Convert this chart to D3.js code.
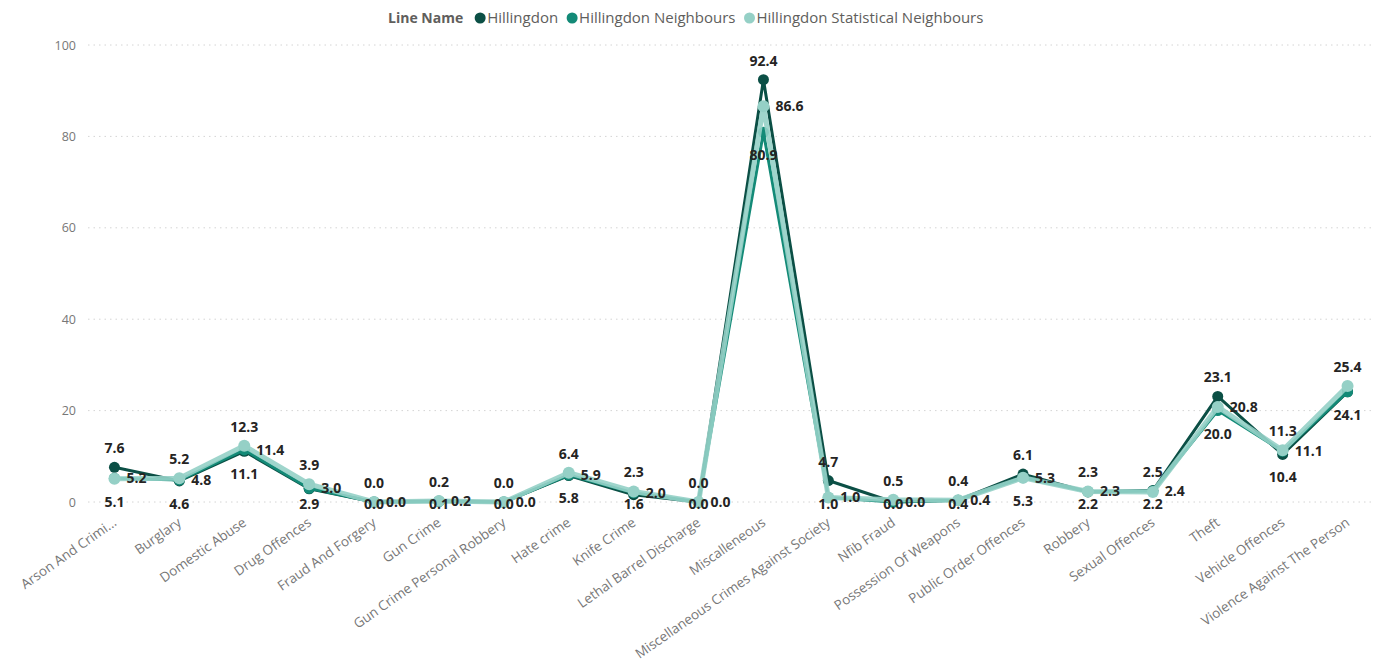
<!DOCTYPE html>
<html>
<head>
<meta charset="utf-8">
<script src="https://cdn.jsdelivr.net/npm/d3@7"></script>
<style>
  body { margin: 0; background: #fff; }
  svg { font-family: "Segoe UI", "Open Sans", sans-serif; }
</style>
</head>
<body>
<div id="the_chart"></div>
<script>
var categories = ["Arson And Crimi...", "Burglary", "Domestic Abuse", "Drug Offences", "Fraud And Forgery",
    "Gun Crime", "Gun Crime Personal Robbery", "Hate crime", "Knife Crime", "Lethal Barrel Discharge",
    "Miscalleneous", "Miscellaneous Crimes Against Society", "Nfib Fraud", "Possession Of Weapons",
    "Public Order Offences", "Robbery", "Sexual Offences", "Theft", "Vehicle Offences", "Violence Against The Person"];

var hillingdon = [7.6, 4.6, 11.1, 2.9, 0.0, 0.2, 0.0, 5.8, 1.6, 0.0, 92.4, 4.7, 0.0, 0.4, 6.1, 2.2, 2.5, 23.1, 10.4, 24.1];
var neighbours = [5.2, 4.8, 11.4, 3.0, 0.0, 0.1, 0.0, 5.9, 2.0, 0.0, 80.9, 1.0, 0.0, 0.4, 5.3, 2.3, 2.4, 20.0, 11.1, 24.1];
var statNeighbours = [5.1, 5.2, 12.3, 3.9, 0.0, 0.2, 0.0, 6.4, 2.3, 0.0, 86.6, 1.0, 0.5, 0.4, 5.3, 2.3, 2.2, 20.8, 11.3, 25.4];

var seriesNames = ["Hillingdon", "Hillingdon Neighbours", "Hillingdon Statistical Neighbours"];
var yTicks = [0, 20, 40, 60, 80, 100];

var colors = ["#0b4f45", "#138a77", "#95d0c6"];

var w = 1375;
var h = 663;

var svg = d3.select("#the_chart")
    .append("svg")
    .attr("width", w)
    .attr("height", h);

var yscale = d3.scaleLinear()
    .domain([0, 100])
    .range([502, 45]);

var xscale = d3.scalePoint()
    .domain(categories)
    .range([82, 1380])
    .padding(0.5);

// gridlines
svg.append("g")
    .selectAll("line")
    .data(yTicks)
    .enter().append("line")
    .attr("x1", 88)
    .attr("x2", 1375)
    .attr("y1", function (d) { return yscale(d); })
    .attr("y2", function (d) { return yscale(d); })
    .attr("stroke", "#d4d4d4")
    .attr("stroke-width", 1)
    .attr("stroke-dasharray", "1.5,4");

// y axis labels
var yaxis = d3.axisLeft(yscale).tickValues(yTicks).tickSize(0).tickPadding(0);
var yg = svg.append("g")
    .attr("transform", "translate(76,0)")
    .call(yaxis)
    .attr("font-family", null);
yg.select(".domain").remove();
yg.selectAll("text")
    .attr("fill", "#777")
    .style("font-size", "12.5px");

// x axis labels, rotated
var xaxis = d3.axisBottom(xscale).tickSize(0).tickPadding(0);
var xg = svg.append("g")
    .attr("transform", "translate(0,514)")
    .call(xaxis)
    .attr("font-family", null);
xg.select(".domain").remove();
xg.selectAll("text")
    .attr("fill", "#777")
    .style("font-size", "13.5px")
    .attr("text-anchor", "end")
    .attr("x", -4)
    .attr("y", 0)
    .attr("dy", "0.75em")
    .attr("transform", "rotate(-35)");

var allSeries = [hillingdon, neighbours, statNeighbours];

var line = d3.line()
    .x(function (d, i) { return xscale(categories[i]); })
    .y(function (d) { return yscale(d); });

// dark first, light statistical series on top
var widths = [3, 3, 5];
[0, 1, 2].forEach(function (s) {
    svg.append("path")
        .datum(allSeries[s])
        .attr("fill", "none")
        .attr("stroke", colors[s])
        .attr("stroke-width", widths[s])
        .attr("stroke-opacity", s == 2 ? 0.9 : 1)
        .attr("stroke-linejoin", "round")
        .attr("d", line);
    svg.append("g")
        .selectAll("circle")
        .data(allSeries[s])
        .enter().append("circle")
        .attr("cx", function (d, i) { return xscale(categories[i]); })
        .attr("cy", function (d) { return yscale(d); })
        .attr("r", s == 2 ? 6 : 5.5)
        .attr("fill", colors[s]);
});

// data labels: highest above, lowest below (kept above the axis), middle to the right
var labels = [];
categories.forEach(function (c, i) {
    var pts = allSeries.map(function (arr, s) { return { v: arr[i], s: s }; });
    pts.sort(function (a, b) { return b.v - a.v; });
    var x = xscale(c);
    labels.push({ x: x, y: yscale(pts[0].v) - 14, t: pts[0].v, a: "middle" });
    if (x + 45 < w) {
        labels.push({ x: x + 12, y: yscale(pts[1].v) + 5, t: pts[1].v, a: "start" });
    }
    labels.push({ x: x, y: Math.min(yscale(pts[2].v) + 28, 509), t: pts[2].v, a: "middle" });
});

svg.append("g")
    .selectAll("text")
    .data(labels)
    .enter().append("text")
    .attr("x", function (d) { return d.x; })
    .attr("y", function (d) { return d.y; })
    .attr("text-anchor", function (d) { return d.a; })
    .attr("fill", "#252423")
    .style("font-size", "14px")
    .style("font-weight", "bold")
    .text(function (d) { return d.t.toFixed(1); });

// legend, laid out by measured text width
var legend = svg.append("g").attr("transform", "translate(388,18)");
var title = legend.append("text")
    .attr("x", 0)
    .attr("y", 5)
    .attr("fill", "#605e5c")
    .style("font-size", "14px")
    .style("font-weight", "bold")
    .text("Line Name");
var lx = title.node().getComputedTextLength() + 17;
seriesNames.forEach(function (n, s) {
    legend.append("circle")
        .attr("cx", lx)
        .attr("cy", 0)
        .attr("r", 5.5)
        .attr("fill", colors[s]);
    var t = legend.append("text")
        .attr("x", lx + 7)
        .attr("y", 5)
        .attr("fill", "#605e5c")
        .style("font-size", "15px")
        .text(n);
    lx += 7 + t.node().getComputedTextLength() + 14;
});
</script>
</body>
</html>
